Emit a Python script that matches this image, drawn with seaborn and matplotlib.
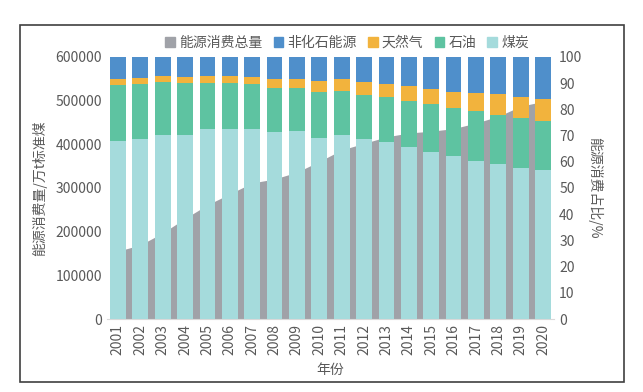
import matplotlib
matplotlib.use("Agg")
import matplotlib.pyplot as plt
import seaborn as sns
import numpy as np
from matplotlib.patches import Patch, Rectangle

# data
years = [str(y) for y in range(2001, 2021)]
total = [155547, 169577, 197083, 230281, 261369, 286467, 311442, 320611, 336126, 360648,
         387043, 402138, 416913, 425806, 429905, 435819, 448529, 464000, 487000, 498000]
coal = [68.0, 68.5, 70.2, 70.2, 72.4, 72.4, 72.5, 71.5, 71.6, 69.2,
        70.2, 68.5, 67.4, 65.6, 63.7, 62.0, 60.4, 59.0, 57.7, 56.8]
oil = [21.2, 21.0, 20.1, 19.9, 17.8, 17.5, 17.0, 16.7, 16.4, 17.4,
       16.8, 17.0, 17.1, 17.4, 18.3, 18.5, 18.8, 18.9, 19.0, 18.9]
gas = [2.4, 2.3, 2.3, 2.3, 2.4, 2.7, 3.0, 3.4, 3.5, 4.0,
       4.6, 4.8, 5.3, 5.7, 5.9, 6.2, 7.0, 7.8, 8.0, 8.4]
nonfossil = [8.4, 8.2, 7.4, 7.6, 7.4, 7.4, 7.5, 8.4, 8.5, 9.4,
             8.4, 9.7, 10.2, 11.3, 12.1, 13.3, 13.8, 14.3, 15.3, 15.9]

c_total = "#A0A2A8"
c_nonfossil = "#4F8FCB"
c_gas = "#F2B33D"
c_oil = "#5EC3A1"
c_coal = "#A5DBDC"
txt = "#595959"

sns.set_style("white")
plt.rcParams["font.family"] = ["Noto Sans CJK SC", "DejaVu Sans"]
plt.rcParams["font.size"] = 10

fig = plt.figure(figsize=(6.43, 3.92), dpi=100)
ax = fig.add_axes([0.166, 0.186, 0.696, 0.669])

# total consumption as area on the left axis
xpos = np.arange(len(years))
ax.fill_between(xpos, 0, total, color=c_total, linewidth=0)
ax.set_xlim(-0.5, len(years) - 0.5)
ax.set_ylim(0, 600000)
ax.set_yticks(range(0, 600001, 100000))

# stacked shares on the right axis
ax2 = ax.twinx()
coal_a = np.array(coal)
oil_a = coal_a + np.array(oil)
gas_a = oil_a + np.array(gas)
nf_a = gas_a + np.array(nonfossil)
nf_a = np.full_like(nf_a, 100.0)
for vals, col in [(nf_a, c_nonfossil), (gas_a, c_gas), (oil_a, c_oil), (coal_a, c_coal)]:
    sns.barplot(x=years, y=vals, color=col, saturation=1, width=0.7, ax=ax2, linewidth=0)
ax2.set_xlim(-0.5, len(years) - 0.5)
ax2.set_ylim(0, 100)
ax2.set_yticks(range(0, 101, 10))

for a in (ax, ax2):
    for s in a.spines.values():
        s.set_visible(False)
    a.tick_params(axis="both", length=0, colors=txt, labelsize=10)
ax.spines["bottom"].set_visible(True)
ax.spines["bottom"].set_color("#D9D9D9")
ax.set_xticks(xpos)
ax.set_xticklabels(years, rotation=90)
ax2.tick_params(axis="x", labelbottom=False)

ax.set_xlabel("年份", color=txt, fontsize=10, labelpad=6)
ax.set_ylabel("能源消费量/万t标准煤", color=txt, fontsize=10, labelpad=6)
ax2.set_ylabel("能源消费占比/%", color=txt, fontsize=10, rotation=270, labelpad=14)

handles = [Patch(color=c_total, label="能源消费总量"),
           Patch(color=c_nonfossil, label="非化石能源"),
           Patch(color=c_gas, label="天然气"),
           Patch(color=c_oil, label="石油"),
           Patch(color=c_coal, label="煤炭")]
leg = fig.legend(handles=handles, loc="center", bbox_to_anchor=(0.54, 0.89), ncol=5,
                 frameon=False, handlelength=0.7, handleheight=0.7, handletextpad=0.3,
                 columnspacing=0.8, fontsize=10)
for t in leg.get_texts():
    t.set_color(txt)

# outer frame
fig.patches.append(Rectangle((20 / 643, 1 - 382 / 392), 604 / 643, 357 / 392,
                             transform=fig.transFigure, fill=False,
                             edgecolor="#404040", linewidth=1.2))

fig.savefig("out.png", dpi=100)
